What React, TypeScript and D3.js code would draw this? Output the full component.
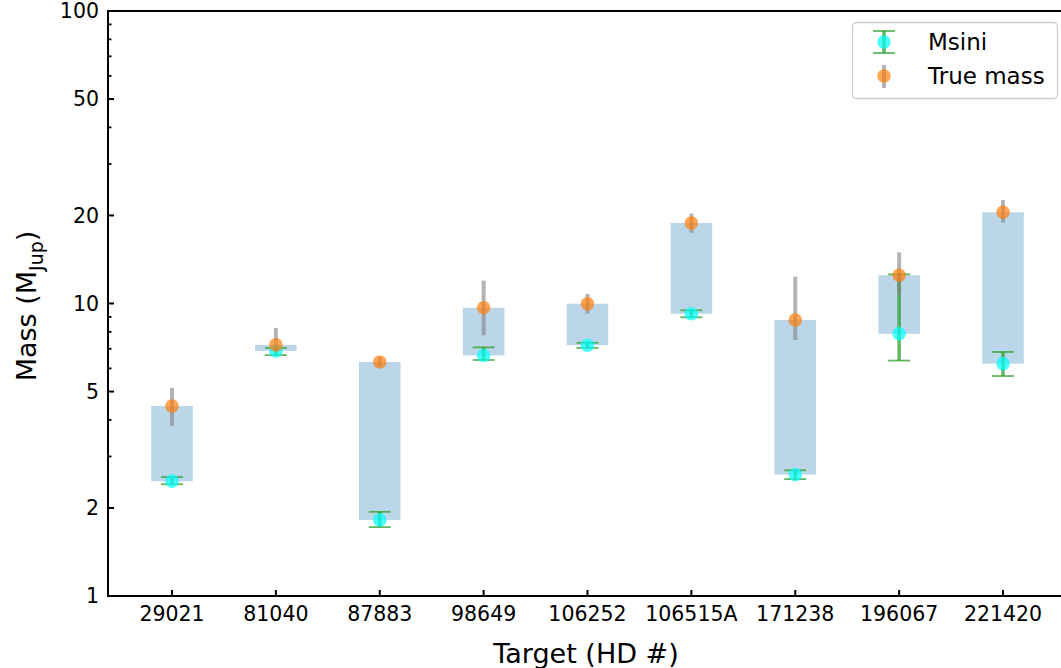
import React from "react";
import * as d3 from "d3";

const targets = ["29021", "81040", "87883", "98649", "106252", "106515A", "171238", "196067", "221420"];
const msini = [2.47, 6.88, 1.82, 6.64, 7.2, 9.22, 2.6, 7.88, 6.23];
const msiniErrPlus = [0.08, 0.17, 0.12, 0.44, 0.14, 0.26, 0.09, 4.7, 0.6];
const msiniErrMinus = [0.06, 0.22, 0.1, 0.23, 0.15, 0.25, 0.09, 1.5, 0.58];
const trueMass = [4.46, 7.22, 6.31, 9.67, 9.98, 18.85, 8.78, 12.49, 20.5];
const trueErrPlus = [0.68, 1.03, 0.25, 2.3, 0.8, 1.45, 3.57, 2.47, 2.1];
const trueErrMinus = [0.65, 0.3, 0.25, 1.88, 0.75, 1.39, 1.28, 1.8, 1.6];
const yTickValues = [1, 2, 5, 10, 20, 50, 100];
const yMinorValues = [3, 4, 6, 7, 8, 9, 30, 40, 60, 70, 80, 90];

const W = 1061;
const H = 668;
const left = 108;
const top = 11;
const bottom = 596;
const FONT = "DejaVu Sans, sans-serif";

export default function App() {
  const x = d3.scaleLinear().domain([-0.616, 8.616]).range([left, 1067]);
  const y = d3.scaleLog().domain([1, 100]).range([bottom, top]);
  const step = x(1) - x(0);
  const barW = step * 0.4;
  const capW = 22;

  return (
    <svg width={W} height={H} style={{ position: "absolute", left: 0, top: 0, background: "#fff" }} fontFamily={FONT}>
      {/* bars */}
      {targets.map((t, i) => (
        <rect
          key={"b" + t}
          x={x(i) - barW / 2}
          y={y(trueMass[i])}
          width={barW}
          height={y(msini[i]) - y(trueMass[i])}
          fill="rgb(31,119,180)"
          fillOpacity={0.3}
        />
      ))}
      {/* Msini error bars */}
      {targets.map((t, i) => {
        const hi = y(msini[i] + msiniErrPlus[i]);
        const lo = y(msini[i] - msiniErrMinus[i]);
        return (
          <g key={"me" + t} stroke="#2ca02c" strokeOpacity={0.75}>
            <line x1={x(i)} x2={x(i)} y1={hi} y2={lo} strokeWidth={3.5} />
            <line x1={x(i) - capW / 2} x2={x(i) + capW / 2} y1={hi} y2={hi} strokeWidth={1.8} />
            <line x1={x(i) - capW / 2} x2={x(i) + capW / 2} y1={lo} y2={lo} strokeWidth={1.8} />
          </g>
        );
      })}
      {targets.map((t, i) => (
        <circle key={"mc" + t} cx={x(i)} cy={y(msini[i])} r={6.8} fill="#00ffff" fillOpacity={0.7} />
      ))}
      {/* True mass error bars */}
      {targets.map((t, i) => (
        <line
          key={"te" + t}
          x1={x(i)}
          x2={x(i)}
          y1={y(trueMass[i] + trueErrPlus[i])}
          y2={y(trueMass[i] - trueErrMinus[i])}
          stroke="gray"
          strokeOpacity={0.6}
          strokeWidth={4}
        />
      ))}
      {targets.map((t, i) => (
        <circle key={"tc" + t} cx={x(i)} cy={y(trueMass[i])} r={6.8} fill="#ff7f0e" fillOpacity={0.7} />
      ))}

      {/* spines */}
      <line x1={left} x2={left} y1={top - 1} y2={bottom + 1} stroke="#000" strokeWidth={2} />
      <line x1={left - 1} x2={W} y1={bottom} y2={bottom} stroke="#000" strokeWidth={2} />
      <line x1={left - 1} x2={W} y1={top} y2={top} stroke="#000" strokeWidth={2} />

      {/* y ticks */}
      {yTickValues.map((v) => (
        <g key={"yt" + v}>
          <line x1={left} x2={left + 6} y1={y(v)} y2={y(v)} stroke="#000" strokeWidth={2} />
          <text x={left - 9} y={y(v)} dy="0.36em" textAnchor="end" fontSize={20.5}>
            {v}
          </text>
        </g>
      ))}
      {yMinorValues.map((v) => (
        <line key={"ym" + v} x1={left} x2={left + 3.5} y1={y(v)} y2={y(v)} stroke="#000" strokeWidth={1.8} />
      ))}
      {/* x ticks */}
      {targets.map((t, i) => (
        <g key={"xt" + t}>
          <line x1={x(i)} x2={x(i)} y1={bottom} y2={bottom - 6} stroke="#000" strokeWidth={2} />
          <text x={x(i)} y={bottom + 25} textAnchor="middle" fontSize={20.5}>
            {t}
          </text>
        </g>
      ))}

      {/* axis labels */}
      <text x={586} y={663} textAnchor="middle" fontSize={27}>
        Target (HD #)
      </text>
      <text transform={`translate(36,${306}) rotate(-90)`} textAnchor="middle" fontSize={27}>
        Mass (M
        <tspan fontSize={19} dy={7}>Jup</tspan>
        <tspan dy={-7}>)</tspan>
      </text>

      {/* legend */}
      <rect x={852.5} y={22.5} width={205} height={76} rx={4} fill="#fff" fillOpacity={0.8} stroke="#ccc" strokeWidth={1.3} />
      <g stroke="#2ca02c" strokeOpacity={0.75}>
        <line x1={884} x2={884} y1={31} y2={53} strokeWidth={3.5} />
        <line x1={873} x2={895} y1={31} y2={31} strokeWidth={1.8} />
        <line x1={873} x2={895} y1={53} y2={53} strokeWidth={1.8} />
      </g>
      <circle cx={884} cy={42} r={6.8} fill="#00ffff" fillOpacity={0.7} />
      <text x={928} y={42} dy="0.36em" fontSize={23}>
        Msini
      </text>
      <line x1={884} x2={884} y1={65} y2={88} stroke="gray" strokeOpacity={0.6} strokeWidth={4} />
      <circle cx={884} cy={76} r={6.8} fill="#ff7f0e" fillOpacity={0.7} />
      <text x={928} y={76} dy="0.36em" fontSize={23}>
        True mass
      </text>
    </svg>
  );
}
